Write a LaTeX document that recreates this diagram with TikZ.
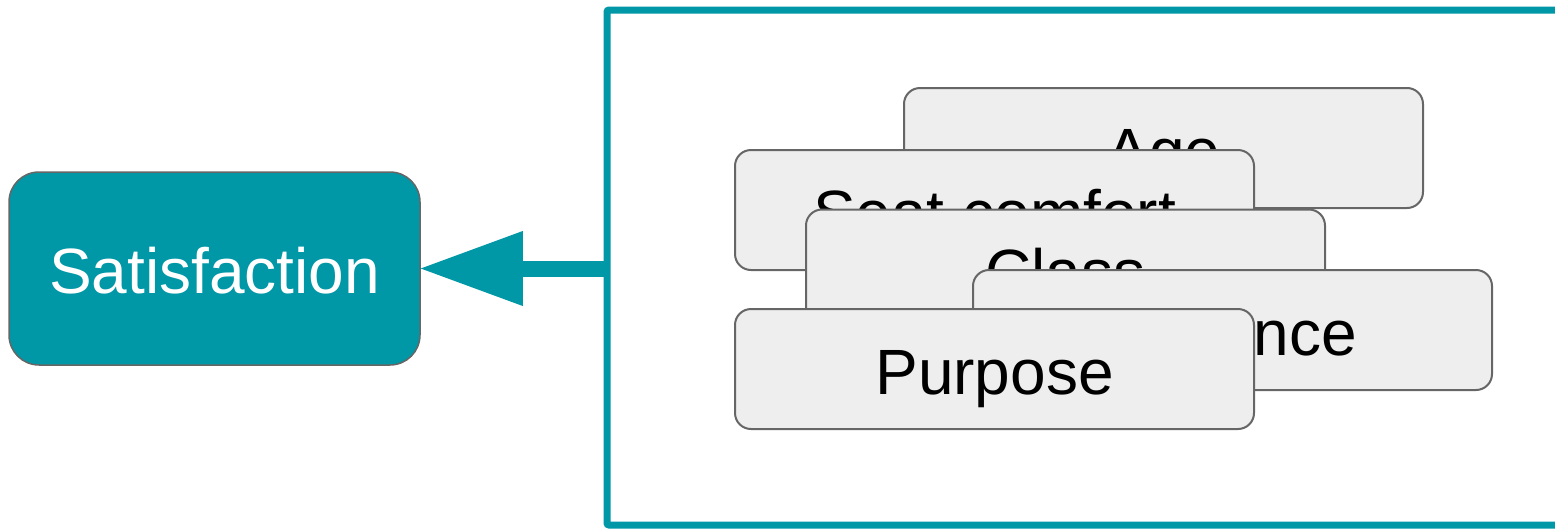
\documentclass[tikz,border=0pt]{standalone}
\usepackage{fontspec}
\setmainfont{Liberation Sans}
\usetikzlibrary{arrows.meta}
\definecolor{tealmain}{HTML}{0097A7}
\definecolor{cardfill}{HTML}{EEEEEE}
\definecolor{cardline}{HTML}{666666}
\tikzset{
  bigtext/.style={font=\fontsize{64}{77}\selectfont, text height=50pt, text depth=0pt, inner sep=0pt},
  card/.style={bigtext, rectangle, rounded corners=16pt, draw=cardline, line width=2pt,
    fill=cardfill, text=black, minimum width=519pt, minimum height=120pt},
  target/.style={bigtext, rectangle, rounded corners=30pt, draw=cardline, line width=1.5pt,
    fill=tealmain, text=white, minimum width=411pt, minimum height=193pt},
  frameline/.style={draw=tealmain, line width=7pt, rounded corners=2pt},
  feed/.style={draw=tealmain, line width=16pt,
    -{Triangle[length=102pt,width=75pt,line width=0pt]}}
}
\begin{document}
\begin{tikzpicture}[x=1pt,y=-1pt]
  \useasboundingbox (0,0) rectangle (1555,528);

  % outcome node
  \node[target] (sat) at (214.5,268.5) {Satisfaction};

  % open frame around the predictor cards
  \coordinate (ftr) at (1555,10);
  \coordinate (ftl) at (607,10);
  \coordinate (fbl) at (607,525);
  \coordinate (fbr) at (1555,525);
  \draw[frameline] (ftr) -- (ftl) -- (fbl) -- (fbr);

  % predictor cards, stacked back to front
  \node[card] (age) at (1163.5,148) {Age};
  \node[card] (seat) at (994.5,210) {Seat comfort};
  \node[card] (class) at (1065.5,269.5) {Class};
  \node[card] (dist) at (1232.5,330) {Distance};
  \node[card] (purp) at (994.5,369) {Purpose};

  % arrow from the frame to the outcome
  \coordinate (src) at (607,268.5);
  \draw[feed] (src) -- (sat.east);
\end{tikzpicture}
\end{document}
